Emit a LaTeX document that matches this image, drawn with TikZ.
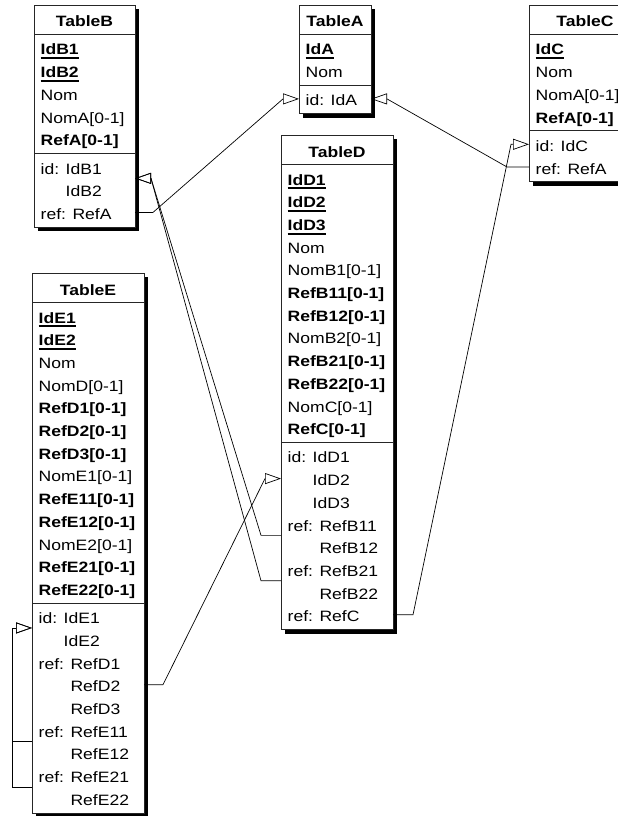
\documentclass[tikz,border=0pt]{standalone}
\usepackage{fontspec}
\setmainfont{Liberation Sans}[FakeStretch=1.17]
\usetikzlibrary{arrows.meta,shadows}

% primary key: bold with a heavy underline
\newcommand\pkey[1]{\setbox0\hbox{\textbf{#1}}\rlap{\rule[-4.3pt]{\wd0}{2pt}}\box0}
% continuation lines of a group line up after the group label
\newcommand\contid{\phantom{id: }}
\newcommand\contref{\phantom{ref: }}

% one attribute line (row k) and one constraint line (row k, counted over both sections)
\newcommand\fieldrow[4]{\node[fld] (#1) at ([shift={(6.5,{50+22.7*(#3)})}]#2.north west) {#4};}
\newcommand\consrow[4]{\node[fld] (#1) at ([shift={(6.5,{55.5+22.7*(#3)})}]#2.north west) {#4};}
% title and the two separator lines of a table
\newcommand\tablehead[3]{%
  \node[ttl] (#1-title) at ([shift={(0,22)}]#1.north) {#3};
  \draw[sep] ([shift={(0,29.5)}]#1.north west) -- ([shift={(0,29.5)}]#1.north east);
  \draw[sep] ([shift={(0,{35+22.7*(#2)})}]#1.north west) -- ([shift={(0,{35+22.7*(#2)})}]#1.north east);}
% connection points on the left / right border at (fractional) row k
\newcommand\portL[3]{\coordinate (#1) at ([shift={(0,{48.5+22.7*(#3)})}]#2.north west);}
\newcommand\portR[3]{\coordinate (#1) at ([shift={(0,{48.5+22.7*(#3)})}]#2.north east);}

\tikzset{
  tbl/.style={draw=black!85, line width=0.8pt, fill=white, anchor=north west,
    inner sep=0pt, outer sep=0pt,
    drop shadow={shadow xshift=4pt, shadow yshift=-4pt, fill=black, opacity=1}},
  ttl/.style={anchor=base, inner sep=0pt, font=\fontsize{15}{18}\selectfont\bfseries},
  fld/.style={anchor=base west, inner sep=0pt},
  sep/.style={draw=black!85, line width=0.8pt},
  conn/.style={draw=black, line width=0.7pt, -{Triangle[open, length=16pt, width=11pt]}}
}

\begin{document}
\begin{tikzpicture}[x=1pt, y=-1pt, font=\fontsize{15}{18}\selectfont]
\fill[white] (0,0) rectangle (618,816);
\useasboundingbox (0,0) rectangle (618,816);
\clip (0,0) rectangle (618,816);

% ---------- TableB ----------
\node[tbl, minimum width=101pt, minimum height=222.1pt] (tB) at (34,5) {};
\tablehead{tB}{5}{TableB}
\fieldrow{tB-a0}{tB}{0}{\pkey{IdB1}}
\fieldrow{tB-a1}{tB}{1}{\pkey{IdB2}}
\fieldrow{tB-a2}{tB}{2}{Nom}
\fieldrow{tB-a3}{tB}{3}{NomA[0-1]}
\fieldrow{tB-a4}{tB}{4}{\textbf{RefA[0-1]}}
\consrow{tB-c0}{tB}{5}{id: IdB1}
\consrow{tB-c1}{tB}{6}{\contid IdB2}
\consrow{tB-c2}{tB}{7}{ref: RefA}
\portR{tB-idR}{tB}{5.5}
\portR{tB-refR}{tB}{7}

% ---------- TableA ----------
\node[tbl, minimum width=72pt, minimum height=108.6pt] (tA) at (299,5) {};
\tablehead{tA}{2}{TableA}
\fieldrow{tA-a0}{tA}{0}{\pkey{IdA}}
\fieldrow{tA-a1}{tA}{1}{Nom}
\consrow{tA-c0}{tA}{2}{id: IdA}
\portL{tA-idL}{tA}{2}
\portR{tA-idR}{tA}{2}

% ---------- TableC ----------
\node[tbl, minimum width=112pt, minimum height=176.7pt] (tC) at (529,5) {};
\tablehead{tC}{4}{TableC}
\fieldrow{tC-a0}{tC}{0}{\pkey{IdC}}
\fieldrow{tC-a1}{tC}{1}{Nom}
\fieldrow{tC-a2}{tC}{2}{NomA[0-1]}
\fieldrow{tC-a3}{tC}{3}{\textbf{RefA[0-1]}}
\consrow{tC-c0}{tC}{4}{id: IdC}
\consrow{tC-c1}{tC}{5}{ref: RefA}
\portL{tC-idL}{tC}{4}
\portL{tC-refL}{tC}{5}

% ---------- TableD ----------
\node[tbl, minimum width=112pt, minimum height=494.5pt] (tD) at (281,135) {};
\tablehead{tD}{12}{TableD}
\fieldrow{tD-a0}{tD}{0}{\pkey{IdD1}}
\fieldrow{tD-a1}{tD}{1}{\pkey{IdD2}}
\fieldrow{tD-a2}{tD}{2}{\pkey{IdD3}}
\fieldrow{tD-a3}{tD}{3}{Nom}
\fieldrow{tD-a4}{tD}{4}{NomB1[0-1]}
\fieldrow{tD-a5}{tD}{5}{\textbf{RefB11[0-1]}}
\fieldrow{tD-a6}{tD}{6}{\textbf{RefB12[0-1]}}
\fieldrow{tD-a7}{tD}{7}{NomB2[0-1]}
\fieldrow{tD-a8}{tD}{8}{\textbf{RefB21[0-1]}}
\fieldrow{tD-a9}{tD}{9}{\textbf{RefB22[0-1]}}
\fieldrow{tD-a10}{tD}{10}{NomC[0-1]}
\fieldrow{tD-a11}{tD}{11}{\textbf{RefC[0-1]}}
\consrow{tD-c0}{tD}{12}{id: IdD1}
\consrow{tD-c1}{tD}{13}{\contid IdD2}
\consrow{tD-c2}{tD}{14}{\contid IdD3}
\consrow{tD-c3}{tD}{15}{ref: RefB11}
\consrow{tD-c4}{tD}{16}{\contref RefB12}
\consrow{tD-c5}{tD}{17}{ref: RefB21}
\consrow{tD-c6}{tD}{18}{\contref RefB22}
\consrow{tD-c7}{tD}{19}{ref: RefC}
\portL{tD-idL}{tD}{13}
\portL{tD-r1L}{tD}{15.5}
\portL{tD-r2L}{tD}{17.5}
\portR{tD-r3R}{tD}{19}

% ---------- TableE ----------
\node[tbl, minimum width=112pt, minimum height=539.9pt] (tE) at (32,273) {};
\tablehead{tE}{13}{TableE}
\fieldrow{tE-a0}{tE}{0}{\pkey{IdE1}}
\fieldrow{tE-a1}{tE}{1}{\pkey{IdE2}}
\fieldrow{tE-a2}{tE}{2}{Nom}
\fieldrow{tE-a3}{tE}{3}{NomD[0-1]}
\fieldrow{tE-a4}{tE}{4}{\textbf{RefD1[0-1]}}
\fieldrow{tE-a5}{tE}{5}{\textbf{RefD2[0-1]}}
\fieldrow{tE-a6}{tE}{6}{\textbf{RefD3[0-1]}}
\fieldrow{tE-a7}{tE}{7}{NomE1[0-1]}
\fieldrow{tE-a8}{tE}{8}{\textbf{RefE11[0-1]}}
\fieldrow{tE-a9}{tE}{9}{\textbf{RefE12[0-1]}}
\fieldrow{tE-a10}{tE}{10}{NomE2[0-1]}
\fieldrow{tE-a11}{tE}{11}{\textbf{RefE21[0-1]}}
\fieldrow{tE-a12}{tE}{12}{\textbf{RefE22[0-1]}}
\consrow{tE-c0}{tE}{13}{id: IdE1}
\consrow{tE-c1}{tE}{14}{\contid IdE2}
\consrow{tE-c2}{tE}{15}{ref: RefD1}
\consrow{tE-c3}{tE}{16}{\contref RefD2}
\consrow{tE-c4}{tE}{17}{\contref RefD3}
\consrow{tE-c5}{tE}{18}{ref: RefE11}
\consrow{tE-c6}{tE}{19}{\contref RefE12}
\consrow{tE-c7}{tE}{20}{ref: RefE21}
\consrow{tE-c8}{tE}{21}{\contref RefE22}
\portL{tE-idL}{tE}{13.5}
\portR{tE-r1R}{tE}{16}
\portL{tE-r2L}{tE}{18.5}
\portL{tE-r3L}{tE}{20.5}

% ---------- references ----------
\draw[conn] (tB-refR) -- ++(18,0) -- ([shift={(-16,0)}]tA-idL) -- (tA-idL);
\draw[conn] (tC-refL) -- ++(-22,0) -- ([shift={(16,0)}]tA-idR) -- (tA-idR);
\draw[conn] (tD-r3R) -- ++(20,0) -- ([shift={(-18,0)}]tC-idL) -- (tC-idL);
\draw[conn] (tD-r1L) -- ++(-20,0) -- ([shift={(16,0)}]tB-idR) -- (tB-idR);
\draw[conn] (tD-r2L) -- ++(-20,0) -- ([shift={(16,0)}]tB-idR) -- (tB-idR);
\draw[conn] (tE-r1R) -- ++(19,0) -- ([shift={(-16,0)}]tD-idL) -- (tD-idL);
\draw[conn] (tE-r2L) -- ++(-20,0) |- (tE-idL);
\draw[conn] (tE-r3L) -- ++(-20,0) |- (tE-idL);
\end{tikzpicture}
\end{document}
